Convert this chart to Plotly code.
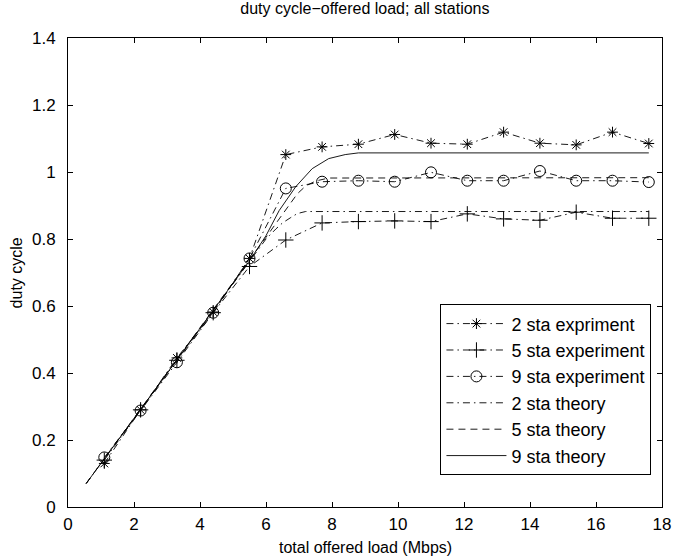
import plotly.graph_objects as go

# Offered load (Mbps) at which the experiments were run
load_exp = [1.1, 2.2, 3.3, 4.4, 5.5, 6.6, 7.7, 8.8, 9.9, 11.0, 12.1, 13.2, 14.3, 15.4, 16.5, 17.6]

# Measured duty cycle
sta2_exp = [0.130, 0.290, 0.445, 0.582, 0.742, 1.052, 1.075, 1.083, 1.112, 1.086,
            1.083, 1.119, 1.086, 1.081, 1.119, 1.085]
sta5_exp = [0.140, 0.290, 0.438, 0.580, 0.718, 0.797, 0.848, 0.852, 0.854, 0.852,
            0.875, 0.860, 0.856, 0.880, 0.862, 0.862]
sta9_exp = [0.148, 0.288, 0.432, 0.580, 0.742, 0.951, 0.971, 0.974, 0.971, 0.999,
            0.974, 0.974, 1.003, 0.974, 0.974, 0.970]

# Theoretical duty cycle curves
sta2_th_x = [0.55, 5.5, 6.0, 6.3, 6.5, 6.75, 6.95, 7.2, 17.6]
sta2_th_y = [0.070, 0.735, 0.800, 0.830, 0.848, 0.864, 0.876, 0.882, 0.882]
sta5_th_x = [0.55, 5.5, 6.0, 6.4, 6.7, 6.95, 7.2, 7.5, 7.9, 17.6]
sta5_th_y = [0.070, 0.735, 0.805, 0.860, 0.900, 0.935, 0.958, 0.973, 0.982, 0.983]
sta9_th_x = [0.55, 5.5, 6.0, 6.4, 6.9, 7.4, 7.9, 8.4, 8.8, 17.6]
sta9_th_y = [0.070, 0.735, 0.810, 0.885, 0.956, 1.010, 1.040, 1.052, 1.057, 1.057]

x_ticks = [0, 2, 4, 6, 8, 10, 12, 14, 16, 18]
y_ticks = [0, 0.2, 0.4, 0.6, 0.8, 1.0, 1.2, 1.4]

FONT = "Liberation Sans, Arial, Helvetica, sans-serif"
DASHDOT = "7px,4px,1.5px,4px"
DASHED = "7px,5px"
LW = 0.9

fig = go.Figure()

fig.add_trace(go.Scatter(
    x=load_exp, y=sta2_exp, name="2 sta expriment", mode="lines+markers",
    line=dict(color="black", width=LW, dash=DASHDOT),
    marker=dict(symbol="asterisk-open", size=9, color="black", line=dict(width=1, color="black")),
))
fig.add_trace(go.Scatter(
    x=load_exp, y=sta5_exp, name="5 sta experiment", mode="lines+markers",
    line=dict(color="black", width=LW, dash=DASHDOT),
    marker=dict(symbol="cross-thin-open", size=11, color="black", line=dict(width=1, color="black")),
))
fig.add_trace(go.Scatter(
    x=load_exp, y=sta9_exp, name="9 sta experiment", mode="lines+markers",
    line=dict(color="black", width=LW, dash=DASHDOT),
    marker=dict(symbol="circle-open", size=11, color="black", line=dict(width=1, color="black")),
))
fig.add_trace(go.Scatter(
    x=sta2_th_x, y=sta2_th_y, name="2 sta theory", mode="lines",
    line=dict(color="black", width=LW, dash=DASHDOT),
))
fig.add_trace(go.Scatter(
    x=sta5_th_x, y=sta5_th_y, name="5 sta theory", mode="lines",
    line=dict(color="black", width=LW, dash=DASHED),
))
fig.add_trace(go.Scatter(
    x=sta9_th_x, y=sta9_th_y, name="9 sta theory", mode="lines",
    line=dict(color="black", width=LW),
))

axis_common = dict(
    showline=True, linecolor="black", linewidth=1, mirror="ticks",
    ticks="inside", ticklen=5, tickcolor="black", tickwidth=1,
    showgrid=False, zeroline=False, automargin=False,
    tickfont=dict(family=FONT, size=17, color="black"),
)

fig.update_xaxes(range=[0, 18], tickvals=x_ticks, ticklabelstandoff=2, **axis_common)
fig.update_yaxes(range=[0, 1.4], tickvals=y_ticks, ticklabelstandoff=8, **axis_common)

# Axis titles placed relative to the plotting area
fig.add_annotation(
    text="total offered load (Mbps)", xref="paper", yref="paper",
    x=0.5, y=-0.087, xanchor="center", yanchor="middle", showarrow=False,
    font=dict(family=FONT, size=16, color="black"),
)
fig.add_annotation(
    text="duty cycle", xref="paper", yref="paper", textangle=-90,
    x=-0.086, y=0.5, xanchor="center", yanchor="middle", showarrow=False,
    font=dict(family=FONT, size=16, color="black"),
)

fig.update_layout(
    width=677, height=560,
    margin=dict(l=68, r=15, t=38, b=53),
    paper_bgcolor="white", plot_bgcolor="white",
    font=dict(family=FONT, size=16, color="black"),
    title=dict(text="duty cycle\u2212offered load; all stations", x=0.539, xanchor="center",
               y=0.995, yanchor="top", font=dict(family=FONT, size=16, color="black")),
    legend=dict(
        x=0.627, y=0.432, xanchor="left", yanchor="top",
        bgcolor="white", bordercolor="black", borderwidth=1,
        font=dict(family=FONT, size=18, color="black"),
        itemwidth=60, tracegroupgap=0,
    ),
    showlegend=True,
)

fig.write_html("out.html")
